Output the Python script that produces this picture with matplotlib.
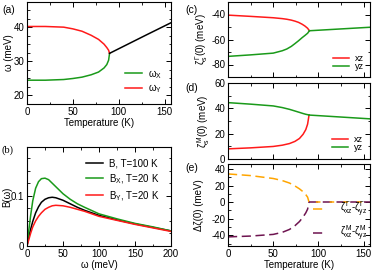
import matplotlib
matplotlib.use("Agg")
import matplotlib.pyplot as plt
from matplotlib.ticker import MultipleLocator

plt.rcParams['font.family'] = ['Liberation Sans', 'DejaVu Sans']
plt.rcParams['font.size'] = 7
plt.rcParams['axes.unicode_minus'] = False
plt.rcParams['mathtext.fontset'] = 'custom'
plt.rcParams['mathtext.rm'] = 'Liberation Sans'
plt.rcParams['mathtext.it'] = 'Liberation Sans'
plt.rcParams['mathtext.bf'] = 'Liberation Sans:bold'

GREEN = '#1a9a1a'
RED = '#ff1a1a'
ORANGE = '#ffa500'
PURPLE = '#6e1450'

# ---- panel (a) data ----
T_a = [0, 20, 40, 50, 60, 70, 78, 84, 87, 89, 90]
omega_X = [24.4, 24.4, 24.6, 24.9, 25.3, 26.0, 26.8, 28.0, 29.0, 30.3, 32.3]
omega_Y = [40.2, 40.2, 40.0, 39.5, 38.8, 37.6, 36.4, 35.0, 34.0, 33.2, 32.3]
T_a_high = [90, 110, 130, 157]
omega_high = [32.3, 35.0, 37.7, 41.3]

# ---- panel (b) data ----
w_b = [0, 2, 5, 8, 12, 16, 20, 25, 30, 35, 40, 50, 60, 70, 80, 100, 125, 150, 175, 200]
B_100 = [0, 0.015, 0.033, 0.049, 0.066, 0.078, 0.087, 0.093, 0.096, 0.097, 0.096, 0.091,
         0.084, 0.077, 0.071, 0.061, 0.052, 0.044, 0.037, 0.030]
Bx_20 = [0, 0.025, 0.060, 0.090, 0.115, 0.128, 0.134, 0.135, 0.132, 0.125, 0.118, 0.104,
         0.093, 0.084, 0.077, 0.064, 0.054, 0.045, 0.038, 0.030]
By_20 = [0, 0.010, 0.025, 0.038, 0.050, 0.059, 0.066, 0.073, 0.077, 0.080, 0.081, 0.080,
         0.077, 0.073, 0.069, 0.059, 0.051, 0.043, 0.036, 0.029]

# ---- panel (c) data ----
T_c = [0, 25, 50, 60, 65, 70, 74, 78, 82, 85, 88, 90]
zG_xz = [-40.5, -41.5, -42.6, -43.3, -43.8, -44.5, -45.3, -46.3, -47.8, -49.2, -51.0, -53.0]
zG_yz = [-73.5, -72.3, -70.9, -69.0, -67.6, -65.5, -63.3, -61.0, -58.5, -56.8, -55.0, -53.0]
T_high = [90, 157]
zG_high = [-53.0, -50.2]

# ---- panel (d) data ----
T_d = [0, 25, 50, 60, 68, 74, 79, 83, 86, 88, 89.6]
zM_xz = [8.0, 8.8, 9.9, 10.9, 12.2, 13.9, 16.2, 19.5, 23.2, 27.5, 34.7]
zM_yz = [44.5, 43.3, 41.9, 40.6, 39.2, 37.9, 36.8, 35.9, 35.3, 35.0, 34.7]
zM_high = [34.7, 31.7]

# ---- panel (e) data ----
T_e = [0, 25, 50, 60, 68, 74, 79, 83, 86, 88, 89.6]
dG = [34.0, 32.0, 28.5, 26.0, 23.0, 19.5, 16.0, 12.5, 9.0, 6.0, 0.0]
dM = [-42.0, -41.0, -39.0, -36.5, -33.0, -28.5, -23.5, -18.0, -13.0, -8.5, 0.0]
T_e_high = [89.6, 157]
d_high = [0.0, 0.0]


def style(ax, xmaj, xmin, ymaj, ymin):
    ax.xaxis.set_major_locator(MultipleLocator(xmaj))
    ax.xaxis.set_minor_locator(MultipleLocator(xmin))
    ax.yaxis.set_major_locator(MultipleLocator(ymaj))
    ax.yaxis.set_minor_locator(MultipleLocator(ymin))
    ax.tick_params(which='both', direction='in', top=True, right=True, labelsize=7, pad=2)
    ax.tick_params(which='major', length=3.5, width=0.7)
    ax.tick_params(which='minor', length=1.8, width=0.6)
    for s in ax.spines.values():
        s.set_linewidth(0.8)


fig = plt.figure(figsize=(3.74, 2.70), dpi=100)

W = 374.0
H = 270.0


def axes_px(l, r, t, b):
    return fig.add_axes([l / W, 1 - b / H, (r - l) / W, (b - t) / H])


lw = 1.1

# (a)
ax = axes_px(27, 171, 2, 104)
ax.plot(T_a, omega_X, color=GREEN, lw=lw, label=r'ω$_X$')
ax.plot(T_a, omega_Y, color=RED, lw=lw, label=r'ω$_Y$')
ax.plot(T_a_high, omega_high, color='black', lw=lw)
ax.set_xlim(0, 157)
ax.set_ylim(17.4, 47.4)
style(ax, 50, 25, 10, 2.5)
ax.set_xlabel('Temperature (K)', labelpad=1)
ax.set_ylabel('ω (meV)')
ax.yaxis.set_label_coords(-0.09, 0.5)
ax.legend(loc='lower right', frameon=False, fontsize=7, handlelength=1.8,
          handletextpad=0.6, labelspacing=0.2, borderaxespad=0.5)
fig.text(2 / W, 1 - 10 / H, '(a)', fontsize=7.5, va='center')

# (b)
ax = axes_px(27, 171, 147, 246)
ax.plot(w_b, B_100, color='black', lw=lw, label='B, T=100 K')
ax.plot(w_b, Bx_20, color=GREEN, lw=lw, label=r'B$_X$, T=20 K')
ax.plot(w_b, By_20, color=RED, lw=lw, label=r'B$_Y$, T=20 K')
ax.set_xlim(0, 200)
ax.set_ylim(0, 0.197)
style(ax, 50, 25, 0.1, 0.025)
ax.set_yticks([0, 0.1])
ax.set_yticklabels(['0', '0.1'])
ax.set_xlabel('ω (meV)', labelpad=1)
ax.set_ylabel('B(ω)')
ax.yaxis.set_label_coords(-0.105, 0.5)
ax.legend(loc='upper right', frameon=False, fontsize=7, handlelength=1.8,
          handletextpad=0.6, labelspacing=0.35, borderaxespad=0.8)
fig.text(2 / W, 1 - 150 / H, '(b)', fontsize=7.5, va='center', family='Liberation Serif')

# (c)
ax = axes_px(228, 370, 2, 77)
ax.plot(T_c, zG_xz, color=RED, lw=lw, label='xz')
ax.plot(T_c, zG_yz, color=GREEN, lw=lw, label='yz')
ax.plot(T_high, zG_high, color=GREEN, lw=lw)
ax.set_xlim(0, 157)
ax.set_ylim(-90, -30)
style(ax, 50, 25, 20, 10)
ax.set_xticklabels([])
ax.set_ylabel(r'$\zeta_s^\Gamma(0)$ (meV)')
ax.yaxis.set_label_coords(-0.125, 0.5)
ax.legend(loc='lower right', frameon=False, fontsize=6.5, handlelength=1.8,
          handletextpad=0.6, labelspacing=-0.15, borderaxespad=0.3)
fig.text(185 / W, 1 - 10 / H, '(c)', fontsize=7.5, va='center')

# (d)
ax = axes_px(228, 370, 83, 159)
ax.plot(T_d, zM_xz, color=RED, lw=lw, label='xz')
ax.plot(T_d, zM_yz, color=GREEN, lw=lw, label='yz')
ax.plot([T_d[-1], 157], zM_high, color=GREEN, lw=lw)
ax.set_xlim(0, 157)
ax.set_ylim(0, 60)
style(ax, 50, 25, 20, 10)
ax.set_xticklabels([])
ax.set_ylabel(r'$\zeta_s^M(0)$ (meV)')
ax.yaxis.set_label_coords(-0.115, 0.5)
ax.legend(loc='lower right', frameon=False, fontsize=6.5, handlelength=1.8,
          handletextpad=0.6, labelspacing=-0.1, borderaxespad=0.4)
fig.text(185 / W, 1 - 88 / H, '(d)', fontsize=7.5, va='center')

# (e)
ax = axes_px(228, 370, 164, 246)
dash = (0, (6, 3))
ax.plot(T_e, dG, color=ORANGE, lw=lw, ls=dash,
        label=r'$\zeta^\Gamma_{xz}$-$\zeta^\Gamma_{yz}$')
ax.plot(T_e, dM, color=PURPLE, lw=lw, ls=dash,
        label=r'$\zeta^M_{xz}$-$\zeta^M_{yz}$')
ax.plot(T_e_high, d_high, color=PURPLE, lw=lw, ls=dash)
ax.plot(T_e_high, d_high, color=ORANGE, lw=lw, ls=(4.5, (3, 6)))
ax.set_xlim(0, 157)
ax.set_ylim(-53, 46)
style(ax, 50, 25, 20, 10)
ax.set_xlabel('Temperature (K)', labelpad=1)
ax.set_ylabel(r'Δζ(0) (meV)')
ax.yaxis.set_label_coords(-0.17, 0.5)
ax.legend(loc='lower right', bbox_to_anchor=(1.03, -0.05), frameon=False, fontsize=7,
          handlelength=1.2, handletextpad=1.6, labelspacing=0.5, borderaxespad=0.3)
fig.text(185 / W, 1 - 168 / H, '(e)', fontsize=7.5, va='center')

fig.savefig('out.png', dpi=100, facecolor='white')
